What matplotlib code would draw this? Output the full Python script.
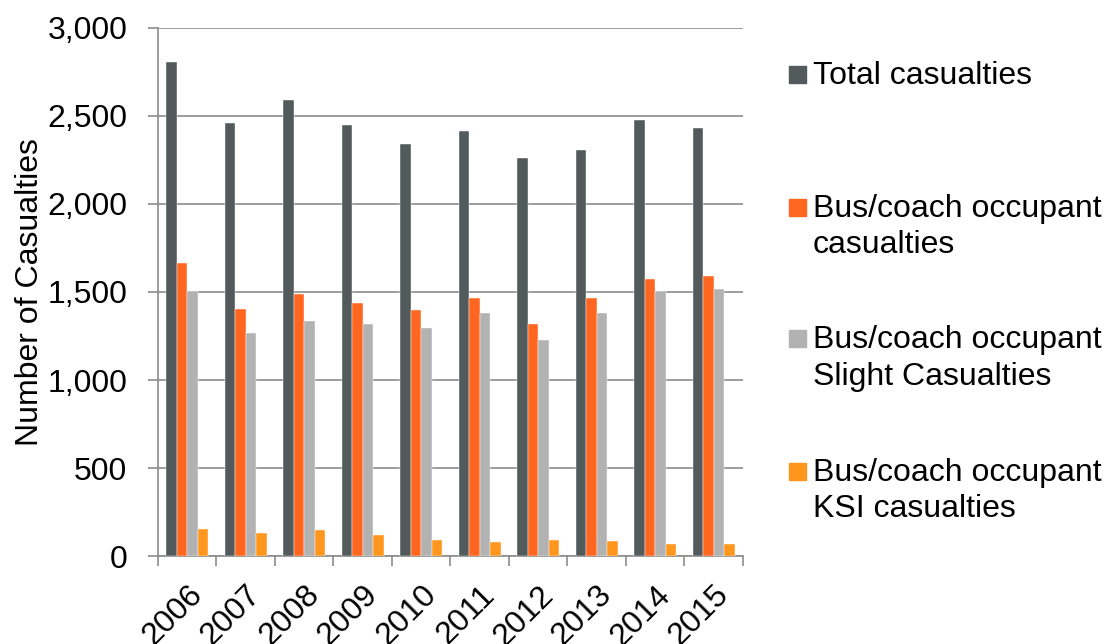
import numpy as np
import matplotlib
matplotlib.use("Agg")
import matplotlib.pyplot as plt
from matplotlib.patches import Rectangle
from matplotlib.ticker import FuncFormatter

years = ["2006", "2007", "2008", "2009", "2010", "2011", "2012", "2013", "2014", "2015"]
total = [2805, 2458, 2592, 2447, 2341, 2415, 2262, 2305, 2475, 2430]
bus_all = [1665, 1403, 1488, 1439, 1395, 1465, 1320, 1465, 1573, 1588]
bus_slight = [1507, 1269, 1333, 1316, 1297, 1378, 1229, 1378, 1507, 1518]
bus_ksi = [155, 130, 149, 122, 92, 83, 91, 87, 68, 68]

labels = ["Total casualties",
          "Bus/coach occupant\ncasualties",
          "Bus/coach occupant\nSlight Casualties",
          "Bus/coach occupant\nKSI casualties"]
colors = ["#525A5C", "#FF6720", "#B2B2B2", "#FF961E"]
series = [total, bus_all, bus_slight, bus_ksi]

plt.rcParams['font.family'] = ['Liberation Sans', 'DejaVu Sans']
FS = 23
GRID = "#8C8C8C"

fig = plt.figure(figsize=(11.04, 6.44), dpi=100)
ax = fig.add_axes([0.1431, 0.1362, 0.5299, 0.8208])

x = np.arange(len(years))
w = 0.18
for i, (vals, c) in enumerate(zip(series, colors)):
    ax.bar(x + (i - 1.5) * w, vals, width=w, color=c, zorder=3,
           edgecolor="white", linewidth=0.3)

ax.set_xlim(-0.5, len(years) - 0.5)
ax.set_ylim(0, 3000)
ax.set_yticks(np.arange(0, 3001, 500))
ax.yaxis.set_major_formatter(FuncFormatter(lambda v, p: f"{int(v):,}"))
ax.grid(axis="y", color=GRID, linewidth=1.2, zorder=0)
ax.tick_params(axis="y", length=7, width=1.2, color=GRID, pad=15, labelsize=FS)

# x ticks sit between categories, labels in the middle
ax.set_xticks(np.arange(-0.5, len(years), 1.0))
ax.set_xticklabels([])
ax.set_xticks(x, minor=True)
ax.set_xticklabels(years, minor=True, rotation=45, ha="right",
                   rotation_mode="anchor", fontsize=FS)
ax.tick_params(axis="x", which="major", length=7, width=1.2, color=GRID)
ax.tick_params(axis="x", which="minor", length=0, pad=17)

for s in ["top", "right"]:
    ax.spines[s].set_visible(False)
for s in ["left", "bottom"]:
    ax.spines[s].set_color(GRID)
    ax.spines[s].set_linewidth(1.2)

ax.set_ylabel("Number of Casualties", fontsize=FS, labelpad=2)

# legend drawn by hand so the marker sits on the first line
W, H = 1104, 644
base_y = [84.3, 216.7, 348.3, 480.7]
for lab, c, by in zip(labels, colors, base_y):
    fig.patches.append(Rectangle((789 / W, 1 - (by - 1) / H), 17 / W, 17 / H,
                                 transform=fig.transFigure, color=c))
    for k, line in enumerate(lab.split("\n")):
        fig.text(813 / W, 1 - (by + k * 36.7) / H, line, fontsize=FS,
                 va="baseline", ha="left")

fig.savefig("out.png", dpi=100)
